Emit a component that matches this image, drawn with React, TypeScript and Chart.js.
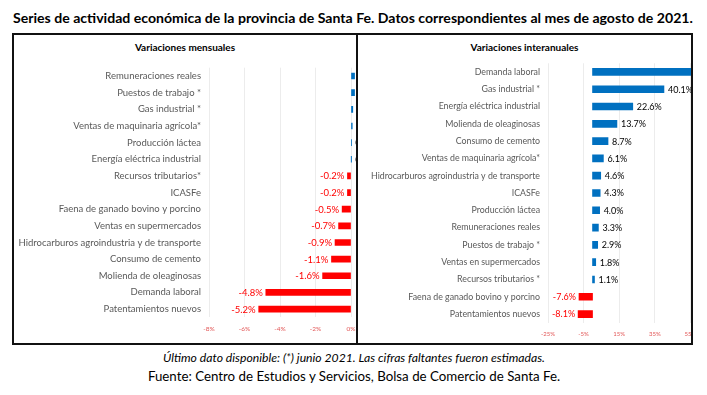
import React, { useEffect, useRef } from "react";
import { Chart, registerables } from "chart.js";

Chart.register(...registerables);

const FONT = "Lato, 'Open Sans', sans-serif";

// Monthly variations (Variaciones mensuales), %
const monthlyLabels = [
  "Remuneraciones reales",
  "Puestos de trabajo *",
  "Gas industrial *",
  "Ventas de maquinaria agrícola*",
  "Producción láctea",
  "Energía eléctrica industrial",
  "Recursos tributarios*",
  "ICASFe",
  "Faena de ganado bovino y porcino",
  "Ventas en supermercados",
  "Hidrocarburos agroindustria y de transporte",
  "Consumo de cemento",
  "Molienda de oleaginosas",
  "Demanda laboral",
  "Patentamientos nuevos",
];
const monthlyValues = [0.2, 0.2, 0.1, 0.07, 0.02, 0.01, -0.2, -0.2, -0.5, -0.7, -0.9, -1.1, -1.6, -4.8, -5.2];
const monthlyTicks = { min: -8, max: 2, step: 2 };

// Year-on-year variations (Variaciones interanuales), %
const yearlyLabels = [
  "Demanda laboral",
  "Gas industrial *",
  "Energía eléctrica industrial",
  "Molienda de oleaginosas",
  "Consumo de cemento",
  "Ventas de maquinaria agrícola*",
  "Hidrocarburos agroindustria y de transporte",
  "ICASFe",
  "Producción láctea",
  "Remuneraciones reales",
  "Puestos de trabajo *",
  "Ventas en supermercados",
  "Recursos tributarios *",
  "Faena de ganado bovino y porcino",
  "Patentamientos nuevos",
];
const yearlyValues = [60.0, 40.1, 22.6, 13.7, 8.7, 6.1, 4.6, 4.3, 4.0, 3.3, 2.9, 1.8, 1.1, -7.6, -8.1];
const yearlyTicks = { min: -25, max: 75, step: 20 };

const BLUE = "#0070C0";
const RED = "#FF0000";
const TICK_RED = "#E25858";
const LABEL_GRAY = "#595959";
const GRID = "#ECECEC";

function makeValueLabels(fontSize: number) {
  return {
    id: "valueLabels",
    afterDatasetsDraw(chart: any) {
      const { ctx } = chart;
      const meta = chart.getDatasetMeta(0);
      const data = chart.data.datasets[0].data as number[];
      ctx.save();
      ctx.font = `${fontSize}px ${FONT}`;
      ctx.textBaseline = "middle";
      meta.data.forEach((bar: any, i: number) => {
        const v = data[i];
        const { x, y } = bar.getProps(["x", "y"], true);
        const txt = v.toFixed(1) + "%";
        if (v < 0) {
          ctx.fillStyle = RED;
          ctx.textAlign = "right";
          ctx.fillText(txt, x - 3, y + 0.5);
        } else {
          ctx.fillStyle = "#000";
          ctx.textAlign = "left";
          ctx.fillText(txt, x + 4, y + 0.5);
        }
      });
      ctx.restore();
    },
  };
}

interface PanelChartProps {
  labels: string[];
  values: number[];
  ticks: { min: number; max: number; step: number };
  width: number;
  height: number;
  yWidth: number;
  xHeight: number;
  padTop: number;
  padRight: number;
  barThickness: number;
  labelFont: number;
  valueFont: number;
  tickFont: number;
  tickPad: number;
}

function PanelChart(p: PanelChartProps) {
  const ref = useRef<HTMLCanvasElement | null>(null);
  useEffect(() => {
    if (!ref.current) return;
    const chart = new Chart(ref.current, {
      type: "bar",
      data: {
        labels: p.labels,
        datasets: [
          {
            data: p.values,
            backgroundColor: p.values.map((v) => (v < 0 ? RED : BLUE)),
            barThickness: p.barThickness,
          },
        ],
      },
      options: {
        indexAxis: "y",
        animation: false,
        responsive: false,
        maintainAspectRatio: false,
        layout: { padding: { top: p.padTop, right: p.padRight, left: 0, bottom: 0 } },
        plugins: { legend: { display: false }, tooltip: { enabled: false } },
        scales: {
          x: {
            min: p.ticks.min,
            max: p.ticks.max,
            ticks: {
              stepSize: p.ticks.step,
              callback: (v: any) => `${v}%`,
              color: TICK_RED,
              font: { size: p.tickFont, family: FONT },
              padding: p.tickPad,
              maxRotation: 0,
            },
            grid: { color: GRID, drawTicks: false, lineWidth: 1 },
            border: { display: false },
            afterFit: (s: any) => {
              s.height = p.xHeight;
            },
          },
          y: {
            ticks: {
              color: LABEL_GRAY,
              font: { size: p.labelFont, family: FONT },
              padding: 8,
              autoSkip: false,
            },
            grid: { display: false, drawTicks: false },
            border: { display: false },
            afterFit: (s: any) => {
              s.width = p.yWidth;
            },
          },
        },
      } as any,
      plugins: [makeValueLabels(p.valueFont)],
    });
    return () => chart.destroy();
  }, []);
  return <canvas ref={ref} width={p.width} height={p.height} style={{ display: "block" }} />;
}

export default function App() {
  return (
    <div
      style={{
        position: "fixed",
        left: 0,
        top: 0,
        width: 707,
        height: 395,
        background: "#fff",
        overflow: "hidden",
        fontFamily: FONT,
      }}
    >
      <div
        style={{
          position: "absolute",
          left: 13,
          top: 9,
          fontSize: 14.1,
          fontWeight: 700,
          color: "#000",
          whiteSpace: "nowrap",
          lineHeight: "18px",
        }}
      >
        Series de actividad económica de la provincia de Santa Fe. Datos correspondientes al mes de agosto de 2021.
      </div>

      {/* left panel */}
      <div style={{ position: "absolute", left: 14, top: 35, width: 342, height: 308, overflow: "hidden" }}>
        <div
          style={{
            position: "absolute",
            left: 0,
            width: 342,
            top: 5,
            textAlign: "center",
            fontSize: 10,
            fontWeight: 700,
            lineHeight: "14px",
            color: "#000",
          }}
        >
          Variaciones mensuales
        </div>
        <div style={{ position: "absolute", left: 0, top: 18.6 }}>
          <PanelChart
            labels={monthlyLabels}
            values={monthlyValues}
            ticks={monthlyTicks}
            width={385}
            height={286.4}
            yWidth={195}
            xHeight={22.6}
            padTop={0}
            padRight={10}
            barThickness={6}
            labelFont={9.5}
            valueFont={9.5}
            tickFont={6.5}
            tickPad={8}
          />
        </div>
      </div>

      {/* right panel */}
      <div style={{ position: "absolute", left: 358, top: 35, width: 333, height: 308, overflow: "hidden" }}>
        <div
          style={{
            position: "absolute",
            left: 0,
            width: 333,
            top: 5,
            textAlign: "center",
            fontSize: 10,
            fontWeight: 700,
            lineHeight: "14px",
            color: "#000",
          }}
        >
          Variaciones interanuales
        </div>
        <div style={{ position: "absolute", left: 0, top: 14.8 }}>
          <PanelChart
            labels={yearlyLabels}
            values={yearlyValues}
            ticks={yearlyTicks}
            width={382}
            height={293.2}
            yWidth={190}
            xHeight={20.3}
            padTop={0}
            padRight={12}
            barThickness={7}
            labelFont={8.8}
            valueFont={9}
            tickFont={6}
            tickPad={8}
          />
        </div>
      </div>

      {/* frame */}
      <div
        style={{
          position: "absolute",
          left: 12,
          top: 33,
          width: 681,
          height: 312,
          border: "2px solid #111",
          boxSizing: "border-box",
          pointerEvents: "none",
        }}
      />
      <div style={{ position: "absolute", left: 356, top: 33, width: 2, height: 312, background: "#111" }} />

      {/* footer */}
      <div
        style={{
          position: "absolute",
          left: 0,
          width: 708,
          top: 349,
          textAlign: "center",
          fontSize: 12.2,
          fontStyle: "italic",
          lineHeight: "18px",
          color: "#000",
        }}
      >
        Último dato disponible: (*) junio 2021. Las cifras faltantes fueron estimadas.
      </div>
      <div
        style={{
          position: "absolute",
          left: 0,
          width: 708,
          top: 366,
          textAlign: "center",
          fontSize: 13.3,
          lineHeight: "20px",
          color: "#000",
        }}
      >
        Fuente: Centro de Estudios y Servicios, Bolsa de Comercio de Santa Fe.
      </div>
    </div>
  );
}
